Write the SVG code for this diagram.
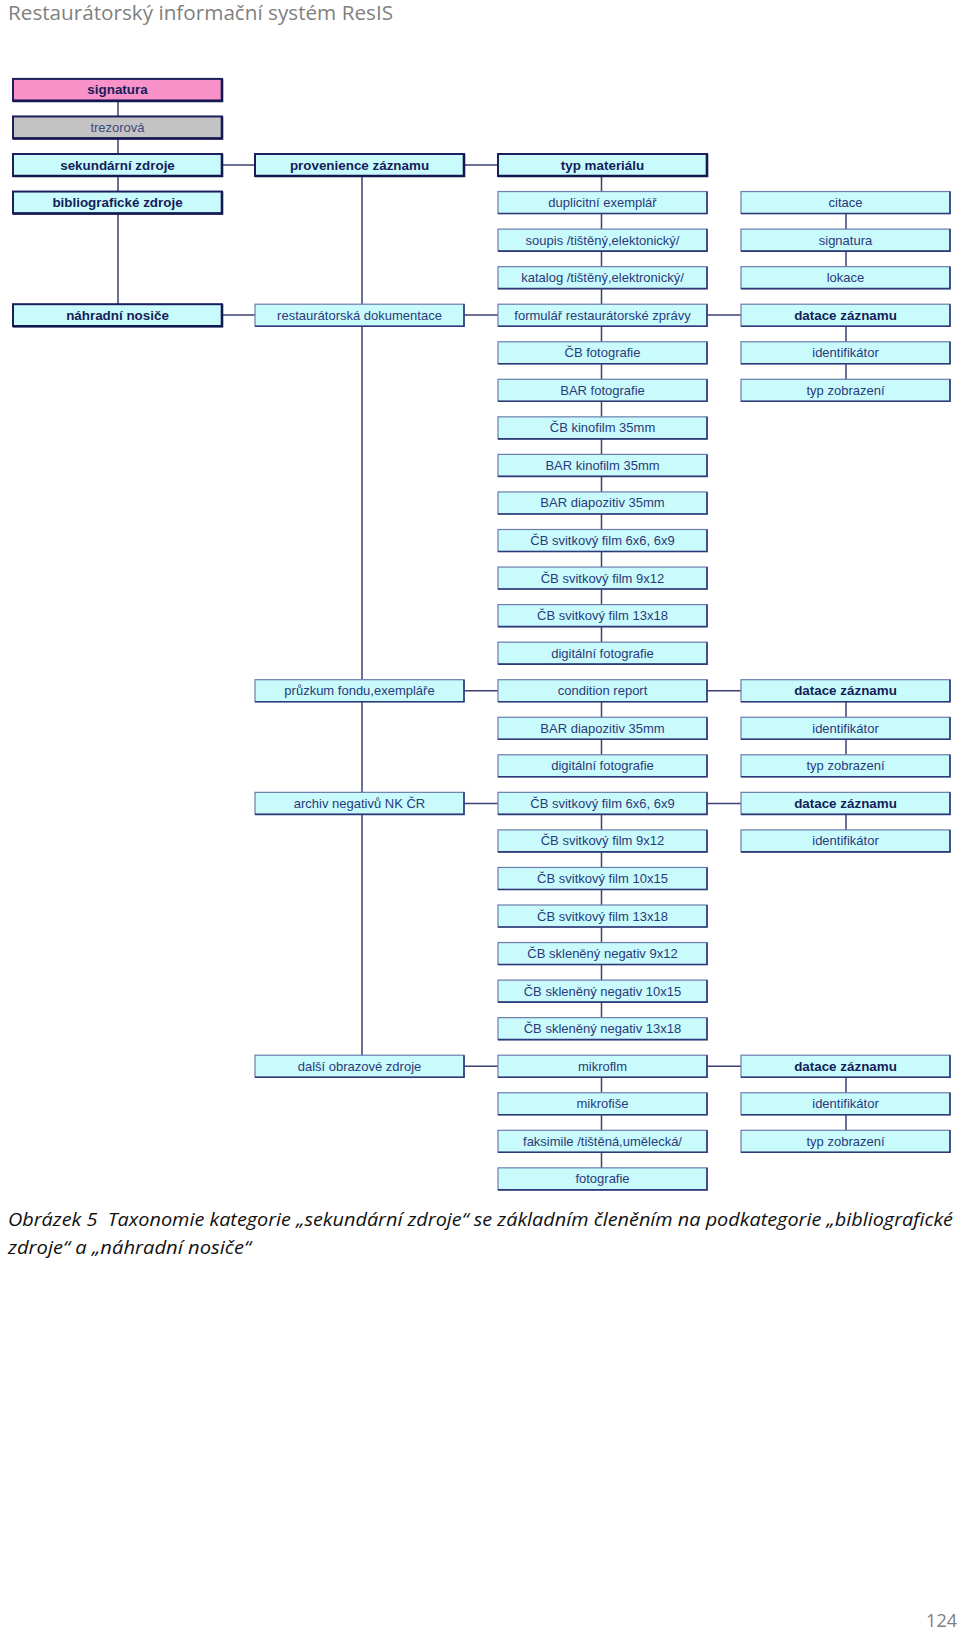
<svg xmlns="http://www.w3.org/2000/svg" width="960" height="1632" viewBox="0 0 960 1632">
<style>
.bg{fill:#ffffff}
.n rect{fill:#c9fbfd;stroke:#6b7cad;stroke-width:1.2}
.n path{fill:none;stroke:#2e3a78;stroke-width:1.6}
.n text{font-family:"Liberation Sans",Arial,sans-serif;font-size:13px;fill:#2a3a7a;text-anchor:middle}
.b rect{stroke:#1b1f5e;stroke-width:2}
.b path{stroke:#141850;stroke-width:2.6}
.b text{font-weight:bold;font-size:13.4px;fill:#141d58}
.bt text{font-weight:bold;font-size:13.4px;fill:#141d58}
.pink rect{fill:#f992c8}
.gray rect{fill:#c3c3c3}
.gray text{fill:#3c4a80}
.c line{stroke:#3a4172;stroke-width:1.5}
.hdr{font-family:"Open Sans","Noto Sans",sans-serif;font-size:20px;fill:#7f7f7f}
.cap{font-family:"Open Sans","Noto Sans",sans-serif;font-style:italic;font-size:18.5px;fill:#111111}
</style>
<rect class="bg" x="0" y="0" width="960" height="1632"/>
<text class="hdr" x="8" y="20" textLength="385" lengthAdjust="spacingAndGlyphs">Restaurátorský informační systém ResIS</text>

<g id="connectors" class="c">
<line x1="118" y1="90" x2="118" y2="315"/>
<line x1="362" y1="165" x2="362" y2="1066"/>
<line x1="601.5" y1="165" x2="601.5" y2="653"/>
<line x1="601.5" y1="691" x2="601.5" y2="766"/>
<line x1="601.5" y1="803" x2="601.5" y2="1029"/>
<line x1="601.5" y1="1066" x2="601.5" y2="1179"/>
<line x1="846" y1="202" x2="846" y2="278"/>
<line x1="846" y1="315" x2="846" y2="390"/>
<line x1="846" y1="691" x2="846" y2="766"/>
<line x1="846" y1="803" x2="846" y2="841"/>
<line x1="846" y1="1066" x2="846" y2="1141"/>
<line x1="222" y1="165" x2="255" y2="165"/>
<line x1="464" y1="165" x2="498" y2="165"/>
<line x1="222" y1="315" x2="255" y2="315"/>
<line x1="464" y1="315" x2="498" y2="315"/>
<line x1="707" y1="315" x2="741" y2="315"/>
<line x1="464" y1="690.7" x2="498" y2="690.7"/>
<line x1="707" y1="690.7" x2="741" y2="690.7"/>
<line x1="464" y1="803.4" x2="498" y2="803.4"/>
<line x1="707" y1="803.4" x2="741" y2="803.4"/>
<line x1="464" y1="1066.2" x2="498" y2="1066.2"/>
<line x1="707" y1="1066.2" x2="741" y2="1066.2"/>
</g>

<g id="a-signatura" class="n b pink" transform="translate(13,78.9)"><rect width="209" height="22"/><path d="M0 22H209V0"/><text x="104.5" y="15.5">signatura</text></g>
<g id="a-trezorova" class="n b gray" transform="translate(13,116.45)"><rect width="209" height="22"/><path d="M0 22H209V0"/><text x="104.5" y="15.5" style="font-weight:normal;font-size:13px">trezorová</text></g>
<g id="a-sekundarni" class="n b" transform="translate(13,154)"><rect width="209" height="22"/><path d="M0 22H209V0"/><text x="104.5" y="15.5">sekundární zdroje</text></g>
<g id="a-bibliograficke" class="n b" transform="translate(13,191.55)"><rect width="209" height="22"/><path d="M0 22H209V0"/><text x="104.5" y="15.5">bibliografické zdroje</text></g>
<g id="a-nahradni" class="n b" transform="translate(13,304.2)"><rect width="209" height="22"/><path d="M0 22H209V0"/><text x="104.5" y="15.5">náhradní nosiče</text></g>

<g id="b-provenience" class="n b" transform="translate(255,154)"><rect width="209" height="22"/><path d="M0 22H209V0"/><text x="104.5" y="15.5">provenience záznamu</text></g>
<g id="b-restauratorska" class="n" transform="translate(255,304.2)"><rect width="209" height="22"/><path d="M0 22H209V0"/><text x="104.5" y="15.5">restaurátorská dokumentace</text></g>
<g id="b-pruzkum" class="n" transform="translate(255,679.7)"><rect width="209" height="22"/><path d="M0 22H209V0"/><text x="104.5" y="15.5">průzkum fondu,exempláře</text></g>
<g id="b-archiv" class="n" transform="translate(255,792.35)"><rect width="209" height="22"/><path d="M0 22H209V0"/><text x="104.5" y="15.5">archiv negativů NK ČR</text></g>
<g id="b-dalsi" class="n" transform="translate(255,1055.2)"><rect width="209" height="22"/><path d="M0 22H209V0"/><text x="104.5" y="15.5">další obrazové zdroje</text></g>

<g id="c-typ" class="n b" transform="translate(498,154)"><rect width="209" height="22"/><path d="M0 22H209V0"/><text x="104.5" y="15.5">typ materiálu</text></g>
<g id="c-duplicitni" class="n" transform="translate(498,191.55)"><rect width="209" height="22"/><path d="M0 22H209V0"/><text x="104.5" y="15.5">duplicitní exemplář</text></g>
<g id="c-soupis" class="n" transform="translate(498,229.1)"><rect width="209" height="22"/><path d="M0 22H209V0"/><text x="104.5" y="15.5">soupis /tištěný,elektonický/</text></g>
<g id="c-katalog" class="n" transform="translate(498,266.65)"><rect width="209" height="22"/><path d="M0 22H209V0"/><text x="104.5" y="15.5">katalog /tištěný,elektronický/</text></g>
<g id="c-formular" class="n" transform="translate(498,304.2)"><rect width="209" height="22"/><path d="M0 22H209V0"/><text x="104.5" y="15.5">formulář restaurátorské zprávy</text></g>
<g id="c-cb-foto" class="n" transform="translate(498,341.75)"><rect width="209" height="22"/><path d="M0 22H209V0"/><text x="104.5" y="15.5">ČB fotografie</text></g>
<g id="c-bar-foto" class="n" transform="translate(498,379.3)"><rect width="209" height="22"/><path d="M0 22H209V0"/><text x="104.5" y="15.5">BAR fotografie</text></g>
<g id="c-cb-kino" class="n" transform="translate(498,416.85)"><rect width="209" height="22"/><path d="M0 22H209V0"/><text x="104.5" y="15.5">ČB kinofilm 35mm</text></g>
<g id="c-bar-kino" class="n" transform="translate(498,454.4)"><rect width="209" height="22"/><path d="M0 22H209V0"/><text x="104.5" y="15.5">BAR kinofilm 35mm</text></g>
<g id="c-bar-diapo-1" class="n" transform="translate(498,491.95)"><rect width="209" height="22"/><path d="M0 22H209V0"/><text x="104.5" y="15.5">BAR diapozitiv 35mm</text></g>
<g id="c-svit-66-1" class="n" transform="translate(498,529.5)"><rect width="209" height="22"/><path d="M0 22H209V0"/><text x="104.5" y="15.5">ČB svitkový film 6x6, 6x9</text></g>
<g id="c-svit-912-1" class="n" transform="translate(498,567.05)"><rect width="209" height="22"/><path d="M0 22H209V0"/><text x="104.5" y="15.5">ČB svitkový film 9x12</text></g>
<g id="c-svit-1318-1" class="n" transform="translate(498,604.6)"><rect width="209" height="22"/><path d="M0 22H209V0"/><text x="104.5" y="15.5">ČB svitkový film 13x18</text></g>
<g id="c-digi-1" class="n" transform="translate(498,642.15)"><rect width="209" height="22"/><path d="M0 22H209V0"/><text x="104.5" y="15.5">digitální fotografie</text></g>
<g id="c-condition" class="n" transform="translate(498,679.7)"><rect width="209" height="22"/><path d="M0 22H209V0"/><text x="104.5" y="15.5">condition report</text></g>
<g id="c-bar-diapo-2" class="n" transform="translate(498,717.25)"><rect width="209" height="22"/><path d="M0 22H209V0"/><text x="104.5" y="15.5">BAR diapozitiv 35mm</text></g>
<g id="c-digi-2" class="n" transform="translate(498,754.8)"><rect width="209" height="22"/><path d="M0 22H209V0"/><text x="104.5" y="15.5">digitální fotografie</text></g>
<g id="c-svit-66-2" class="n" transform="translate(498,792.35)"><rect width="209" height="22"/><path d="M0 22H209V0"/><text x="104.5" y="15.5">ČB svitkový film 6x6, 6x9</text></g>
<g id="c-svit-912-2" class="n" transform="translate(498,829.9)"><rect width="209" height="22"/><path d="M0 22H209V0"/><text x="104.5" y="15.5">ČB svitkový film 9x12</text></g>
<g id="c-svit-1015" class="n" transform="translate(498,867.45)"><rect width="209" height="22"/><path d="M0 22H209V0"/><text x="104.5" y="15.5">ČB svitkový film 10x15</text></g>
<g id="c-svit-1318-2" class="n" transform="translate(498,905)"><rect width="209" height="22"/><path d="M0 22H209V0"/><text x="104.5" y="15.5">ČB svitkový film 13x18</text></g>
<g id="c-skl-912" class="n" transform="translate(498,942.55)"><rect width="209" height="22"/><path d="M0 22H209V0"/><text x="104.5" y="15.5">ČB skleněný negativ 9x12</text></g>
<g id="c-skl-1015" class="n" transform="translate(498,980.1)"><rect width="209" height="22"/><path d="M0 22H209V0"/><text x="104.5" y="15.5">ČB skleněný negativ 10x15</text></g>
<g id="c-skl-1318" class="n" transform="translate(498,1017.65)"><rect width="209" height="22"/><path d="M0 22H209V0"/><text x="104.5" y="15.5">ČB skleněný negativ 13x18</text></g>
<g id="c-mikroflm" class="n" transform="translate(498,1055.2)"><rect width="209" height="22"/><path d="M0 22H209V0"/><text x="104.5" y="15.5">mikroflm</text></g>
<g id="c-mikrofise" class="n" transform="translate(498,1092.75)"><rect width="209" height="22"/><path d="M0 22H209V0"/><text x="104.5" y="15.5">mikrofiše</text></g>
<g id="c-faksimile" class="n" transform="translate(498,1130.3)"><rect width="209" height="22"/><path d="M0 22H209V0"/><text x="104.5" y="15.5">faksimile /tištěná,umělecká/</text></g>
<g id="c-fotografie" class="n" transform="translate(498,1167.85)"><rect width="209" height="22"/><path d="M0 22H209V0"/><text x="104.5" y="15.5">fotografie</text></g>

<g id="d-citace" class="n" transform="translate(741,191.55)"><rect width="209" height="22"/><path d="M0 22H209V0"/><text x="104.5" y="15.5">citace</text></g>
<g id="d-signatura" class="n" transform="translate(741,229.1)"><rect width="209" height="22"/><path d="M0 22H209V0"/><text x="104.5" y="15.5">signatura</text></g>
<g id="d-lokace" class="n" transform="translate(741,266.65)"><rect width="209" height="22"/><path d="M0 22H209V0"/><text x="104.5" y="15.5">lokace</text></g>
<g id="d-datace-1" class="n bt" transform="translate(741,304.2)"><rect width="209" height="22"/><path d="M0 22H209V0"/><text x="104.5" y="15.5">datace záznamu</text></g>
<g id="d-ident-1" class="n" transform="translate(741,341.75)"><rect width="209" height="22"/><path d="M0 22H209V0"/><text x="104.5" y="15.5">identifikátor</text></g>
<g id="d-typzob-1" class="n" transform="translate(741,379.3)"><rect width="209" height="22"/><path d="M0 22H209V0"/><text x="104.5" y="15.5">typ zobrazení</text></g>
<g id="d-datace-2" class="n bt" transform="translate(741,679.7)"><rect width="209" height="22"/><path d="M0 22H209V0"/><text x="104.5" y="15.5">datace záznamu</text></g>
<g id="d-ident-2" class="n" transform="translate(741,717.25)"><rect width="209" height="22"/><path d="M0 22H209V0"/><text x="104.5" y="15.5">identifikátor</text></g>
<g id="d-typzob-2" class="n" transform="translate(741,754.8)"><rect width="209" height="22"/><path d="M0 22H209V0"/><text x="104.5" y="15.5">typ zobrazení</text></g>
<g id="d-datace-3" class="n bt" transform="translate(741,792.35)"><rect width="209" height="22"/><path d="M0 22H209V0"/><text x="104.5" y="15.5">datace záznamu</text></g>
<g id="d-ident-3" class="n" transform="translate(741,829.9)"><rect width="209" height="22"/><path d="M0 22H209V0"/><text x="104.5" y="15.5">identifikátor</text></g>
<g id="d-datace-4" class="n bt" transform="translate(741,1055.2)"><rect width="209" height="22"/><path d="M0 22H209V0"/><text x="104.5" y="15.5">datace záznamu</text></g>
<g id="d-ident-4" class="n" transform="translate(741,1092.75)"><rect width="209" height="22"/><path d="M0 22H209V0"/><text x="104.5" y="15.5">identifikátor</text></g>
<g id="d-typzob-4" class="n" transform="translate(741,1130.3)"><rect width="209" height="22"/><path d="M0 22H209V0"/><text x="104.5" y="15.5">typ zobrazení</text></g>

<text class="cap" x="8" y="1226" textLength="945" lengthAdjust="spacingAndGlyphs">Obrázek 5&#160; Taxonomie kategorie „sekundární zdroje“ se základním členěním na podkategorie „bibliografické</text>
<text class="cap" x="8" y="1254" textLength="243" lengthAdjust="spacingAndGlyphs">zdroje“ a „náhradní nosiče“</text>
<text class="hdr" x="957" y="1627" text-anchor="end" style="font-size:18px">124</text>
</svg>
